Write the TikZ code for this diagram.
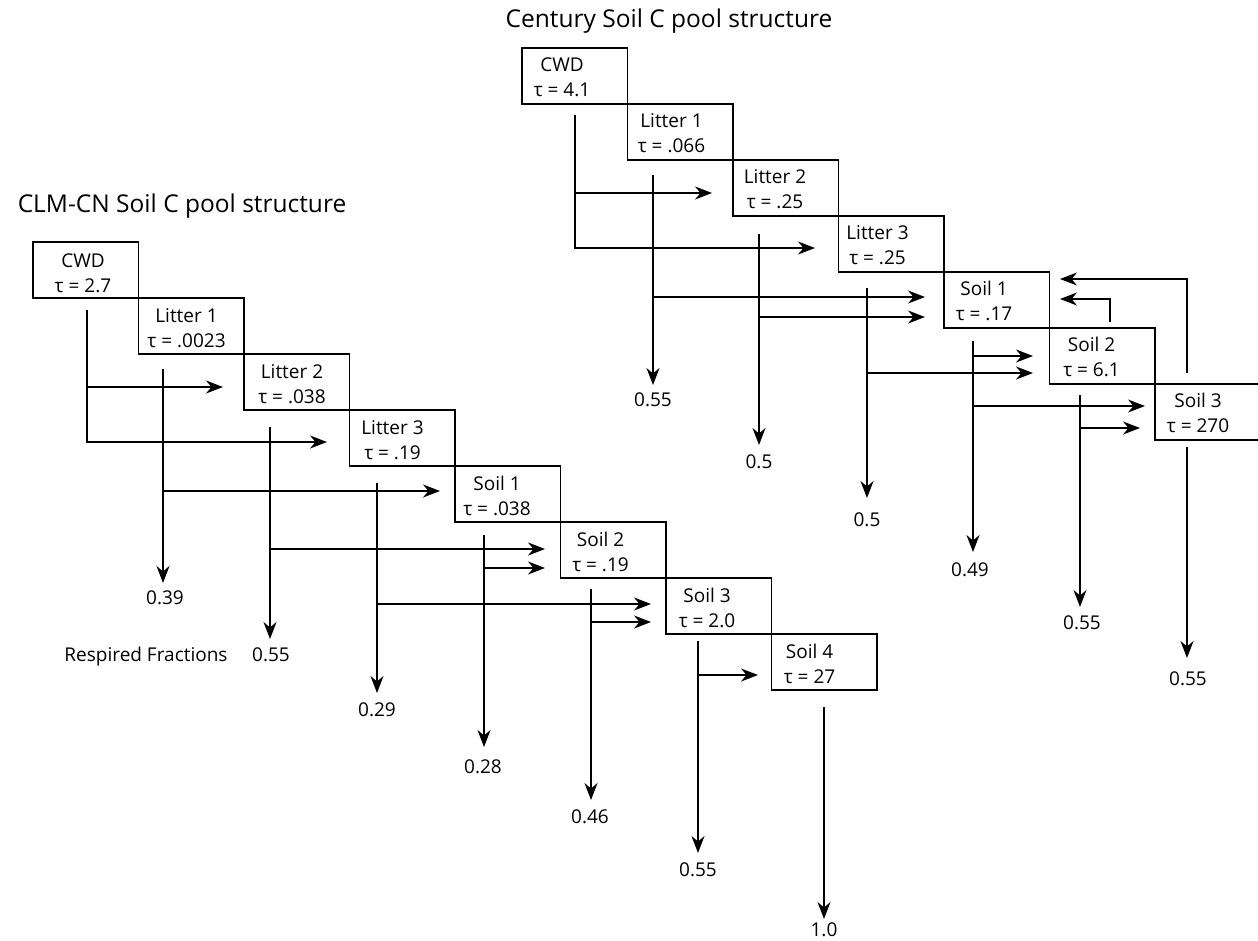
\documentclass[tikz,border=0pt]{standalone}
\usepackage{fontspec}
\setmainfont{Open Sans}
\usetikzlibrary{arrows.meta,calc}
\begin{document}
\begin{tikzpicture}[x=1pt,y=-1pt,
  box/.style={draw, line width=1.5pt, minimum width=105.5pt, minimum height=56pt, anchor=north west, inner sep=0pt, outer sep=0pt},
  txt/.style={font=\fontsize{19}{22}\selectfont, inner sep=0pt, anchor=base},
  num/.style={font=\fontsize{19}{22}\selectfont, inner sep=0pt, anchor=center},
  ttl/.style={font=\fontsize{24.5}{30}\selectfont, inner sep=0pt, anchor=base},
  arr/.style={line width=1.5pt, -{Stealth[length=17pt,width=13pt,inset=5.5pt]}},
]
\useasboundingbox (0,0) rectangle (1258,940);
\clip (0,0) rectangle (1258,940);

% titles
\node[ttl] (titleR) at (669,27) {Century Soil C pool structure};
\node[ttl] (titleL) at (182,212) {CLM-CN Soil C pool structure};

% CLM-CN boxes
\foreach \i/\nm/\tv/\dx/\dy in {0/CWD/2.7/50/1, 1/Litter 1/.0023/48/0, 2/Litter 2/.038/48/0, 3/Litter 3/.19/43/0, 4/Soil 1/.038/42/0, 5/Soil 2/.19/40/0, 6/Soil 3/2.0/41/0, 7/Soil 4/27/38/0}{
  \node[box] (L\i) at ({33+105.5*\i},{242+56*\i}) {};
  \node[txt] (Ln\i) at ($(L\i.north west)+(\dx,24+\dy)$) {\nm};
  \node[txt] (Lt\i) at ($(L\i.north west)+(\dx,49+\dy)$) {τ = \tv};
}

% Century boxes
\foreach \i/\nm/\tv/\dx in {0/CWD/4.1/40, 1/Litter 1/.066/44, 2/Litter 2/.25/42, 3/Litter 3/.25/39, 4/Soil 1/.17/40, 5/Soil 2/6.1/42, 6/Soil 3/270/43}{
  \node[box] (C\i) at ({522+105.5*\i},{48+56*\i}) {};
  \node[txt] (Cn\i) at ($(C\i.north west)+(\dx,23)$) {\nm};
  \node[txt] (Ct\i) at ($(C\i.north west)+(\dx,48)$) {τ = \tv};
}

% CLM-CN respired fractions
\node[txt] (resp) at (146,661) {Respired Fractions};
\node[num] (rL1) at (165,598) {0.39};
\node[num] (rL2) at (271,655) {0.55};
\node[num] (rL3) at (377,710) {0.29};
\node[num] (rL4) at (483,767) {0.28};
\node[num] (rL5) at (590,817) {0.46};
\node[num] (rL6) at (698,870) {0.55};
\node[num] (rL7) at (824,930) {1.0};

% Century respired fractions
\node[num] (rC1) at (653,400) {0.55};
\node[num] (rC2) at (759,462) {0.5};
\node[num] (rC3) at (867,520) {0.5};
\node[num] (rC4) at (970,570) {0.49};
\node[num] (rC5) at (1082,623) {0.55};
\node[num] (rC6) at (1188,679) {0.55};

% CLM-CN flow lines
\coordinate (vL0) at (87,310);   \coordinate (aL03) at (327,442);
\coordinate (vL1) at (163,369);  \coordinate (tL1) at (163,583);
\coordinate (vL2) at (270,427);  \coordinate (tL2) at (270,639);
\coordinate (vL3) at (377,483);  \coordinate (tL3) at (377,693);
\coordinate (vL4) at (484,535);  \coordinate (tL4) at (484,747);
\coordinate (vL5) at (591,589);  \coordinate (tL5) at (591,800);
\coordinate (vL6) at (698,641);  \coordinate (tL6) at (698,853);
\coordinate (vL7) at (824,707);  \coordinate (tL7) at (824,919);

\draw[arr] (vL0) |- (aL03);
\draw[arr] (87,387) -- (223,387);
\draw[arr] (vL1) -- (tL1);
\draw[arr] (163,491) -- (440,491);
\draw[arr] (vL2) -- (tL2);
\draw[arr] (270,549) -- (545,549);
\draw[arr] (vL3) -- (tL3);
\draw[arr] (377,604) -- (651,604);
\draw[arr] (vL4) -- (tL4);
\draw[arr] (484,568) -- (545,568);
\draw[arr] (vL5) -- (tL5);
\draw[arr] (591,622) -- (651,622);
\draw[arr] (vL6) -- (tL6);
\draw[arr] (698,675) -- (758,675);
\draw[arr] (vL7) -- (tL7);

% Century flow lines
\coordinate (vC0) at (575,115);  \coordinate (aC03) at (815,248);
\coordinate (vC1) at (653,175);  \coordinate (tC1) at (653,385);
\coordinate (vC2) at (759,234);  \coordinate (tC2) at (759,445);
\coordinate (vC3) at (867,288);  \coordinate (tC3) at (867,498);
\coordinate (vC4) at (973,341);  \coordinate (tC4) at (973,552);
\coordinate (vC5) at (1080,395); \coordinate (tC5) at (1080,607);
\coordinate (vC6) at (1187,447); \coordinate (tC6) at (1187,658);

\draw[arr] (vC0) |- (aC03);
\draw[arr] (575,193) -- (712,193);
\draw[arr] (vC1) -- (tC1);
\draw[arr] (653,297) -- (925,297);
\draw[arr] (vC2) -- (tC2);
\draw[arr] (759,317) -- (925,317);
\draw[arr] (vC3) -- (tC3);
\draw[arr] (867,373) -- (1033,373);
\draw[arr] (vC4) -- (tC4);
\draw[arr] (973,356) -- (1033,356);
\draw[arr] (973,406) -- (1145,406);
\draw[arr] (vC5) -- (tC5);
\draw[arr] (1080,428) -- (1140,428);
\draw[arr] (1110,322) |- (1060,299);
\draw[arr] (vC6) -- (tC6);
\draw[arr] (1187,373) |- (1060,279);
\end{tikzpicture}
\end{document}
